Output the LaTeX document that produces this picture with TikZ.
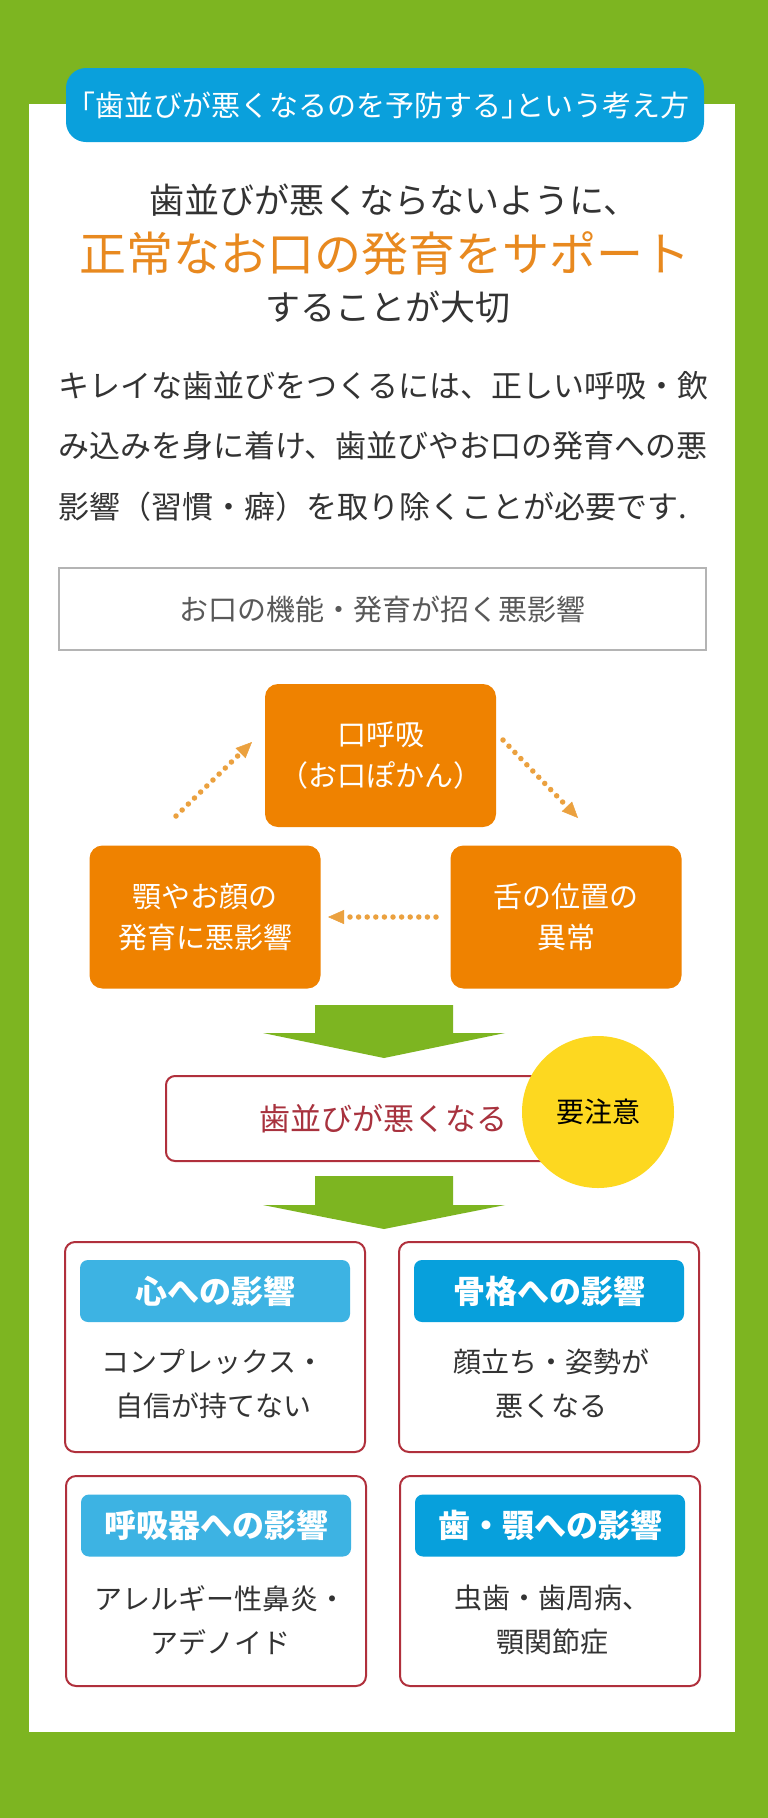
\documentclass[tikz,border=0pt]{standalone}
\usepackage{fontspec}
\setmainfont{Noto Sans CJK JP}
\usetikzlibrary{arrows.meta}
\definecolor{bggreen}{HTML}{7DB521}
\definecolor{pillblue}{HTML}{0AA0DC}
\definecolor{badgelight}{HTML}{3DB3E3}
\definecolor{badgedark}{HTML}{07A0DC}
\definecolor{boxorange}{HTML}{EF8200}
\definecolor{dotorange}{HTML}{EBA13F}
\definecolor{titleorange}{HTML}{E8891F}
\definecolor{darkred}{HTML}{B0303C}
\definecolor{redtext}{HTML}{A8323E}
\definecolor{sunyellow}{HTML}{FDD820}
\definecolor{textgray}{HTML}{333333}
\definecolor{midgray}{HTML}{595959}
\definecolor{framegray}{HTML}{B4B4B4}
\begin{document}
\begin{tikzpicture}[x=1pt,y=-1pt,
  pillbox/.style={fill=pillblue, rounded corners=20pt, minimum width=638pt, minimum height=74pt, inner sep=0pt, text=white, font=\fontsize{29pt}{34pt}\selectfont},
  headline/.style={inner sep=0pt, text=textgray, font=\fontsize{35pt}{42pt}\selectfont},
  headaccent/.style={inner sep=0pt, text=titleorange, font=\fontsize{47pt}{54pt}\selectfont},
  paraline/.style={inner sep=0pt, anchor=west, text=textgray, font=\fontsize{31pt}{36pt}\selectfont},
  framebox/.style={draw=framegray, line width=1.5pt, minimum width=647pt, minimum height=82pt, inner sep=0pt, text=midgray, font=\fontsize{29pt}{34pt}\selectfont},
  cyclebox/.style={fill=boxorange, rounded corners=13pt, minimum width=231pt, minimum height=143pt, inner sep=0pt, text=white, align=center, font=\fontsize{29pt}{41pt}\selectfont},
  dotarrow/.style={draw=dotorange, line width=5.5pt, line cap=round, dash pattern=on 0pt off 8.6pt, -{Triangle[length=16pt,width=14pt,line width=0.5pt]}},
  blockarrow/.style={fill=bggreen},
  resultbox/.style={draw=darkred, line width=2pt, rounded corners=9pt, fill=white, minimum width=434pt, minimum height=85pt, inner sep=0pt, text=redtext, font=\fontsize{31pt}{36pt}\selectfont},
  cautionmark/.style={circle, fill=sunyellow, minimum size=152pt, inner sep=0pt, text=black, font=\fontsize{28pt}{34pt}\selectfont},
  effectbox/.style={draw=darkred, line width=2pt, rounded corners=10pt, fill=white, minimum width=300pt, minimum height=210pt, inner sep=0pt},
  badge/.style={rounded corners=8pt, minimum width=270pt, minimum height=62pt, inner sep=0pt, text=white, font=\fontsize{32pt}{36pt}\selectfont\bfseries},
  effecttext/.style={inner sep=0pt, align=center, text=textgray, font=\fontsize{28pt}{44pt}\selectfont},
]
% background and panel
\fill[bggreen] (0,0) rectangle (768,1818);
\useasboundingbox (0,0) rectangle (768,1818);
\fill[white] (29,104) rectangle (735,1732);

% title pill
\node[pillbox] (pill) at (385,105) {\kern-0.5em「歯並びが悪くなるのを予防する」\kern-0.5em という考え方};

% headline
\node[headline] (h1) at (394,200) {歯並びが悪くならないように、};
\node[headaccent] (h2) at (385,254) {正常なお口の発育をサポート};
\node[headline] (h3) at (388,307) {することが大切};

% paragraph
\node[paraline] (p1) at (58,386) {キレイな歯並びをつくるには、正しい呼吸・飲};
\node[paraline] (p2) at (58,446) {み込みを身に着け、歯並びやお口の発育への悪};
\node[paraline] (p3) at (58,507) {影響（習慣・癖）を取り除くことが必要です.};

% framed caption
\node[framebox] (func) at (382.5,609) {お口の機能・発育が招く悪影響};

% cycle boxes
\node[cyclebox] (mouth) at (380.5,755.5) {口呼吸\\（お口ぽかん）};
\node[cyclebox] (jaw) at (205,917) {顎やお顔の\\発育に悪影響};
\node[cyclebox] (tongue) at (566,917) {舌の位置の\\異常};

% dotted arrows
\coordinate (d1s) at (176,816);
\coordinate (d1e) at (252,742);
\coordinate (d2s) at (503,740);
\coordinate (d2e) at (578,818);
\coordinate (d3s) at (436,917);
\coordinate (d3e) at (328,917);
\draw[dotarrow] (d1s) -- (d1e);
\draw[dotarrow] (d2s) -- (d2e);
\draw[dotarrow] (d3s) -- (d3e);

% first block arrow
\fill[blockarrow] (315,1005) -- (453,1005) -- (453,1033) -- (505,1033) -- (384,1058) -- (263,1033) -- (315,1033) -- cycle;

% result box and caution mark
\node[resultbox] (bad) at (383,1118.5) {歯並びが悪くなる};
\node[cautionmark] (caution) at (598,1112) {要注意};

% second block arrow
\fill[blockarrow] (315,1176) -- (453,1176) -- (453,1205) -- (505,1205) -- (384,1229) -- (263,1205) -- (315,1205) -- cycle;

% effect boxes
\node[effectbox] (e1) at (215,1347) {};
\node[badge, fill=badgelight] (b1) at (215,1291) {心への影響};
\node[effecttext] (t1) at (213,1384) {コンプレックス・\\自信が持てない};

\node[effectbox] (e2) at (549,1347) {};
\node[badge, fill=badgedark] (b2) at (549,1291) {骨格への影響};
\node[effecttext] (t2) at (551,1384) {顔立ち・姿勢が\\悪くなる};

\node[effectbox] (e3) at (216,1581) {};
\node[badge, fill=badgelight] (b3) at (216,1525.5) {呼吸器への影響};
\node[effecttext] (t3) at (220,1620) {アレルギー性鼻炎・\\アデノイド};

\node[effectbox] (e4) at (550,1581) {};
\node[badge, fill=badgedark] (b4) at (550,1525.5) {歯・顎への影響};
\node[effecttext] (t4) at (552,1620) {虫歯・歯周病、\\顎関節症};
\end{tikzpicture}
\end{document}
